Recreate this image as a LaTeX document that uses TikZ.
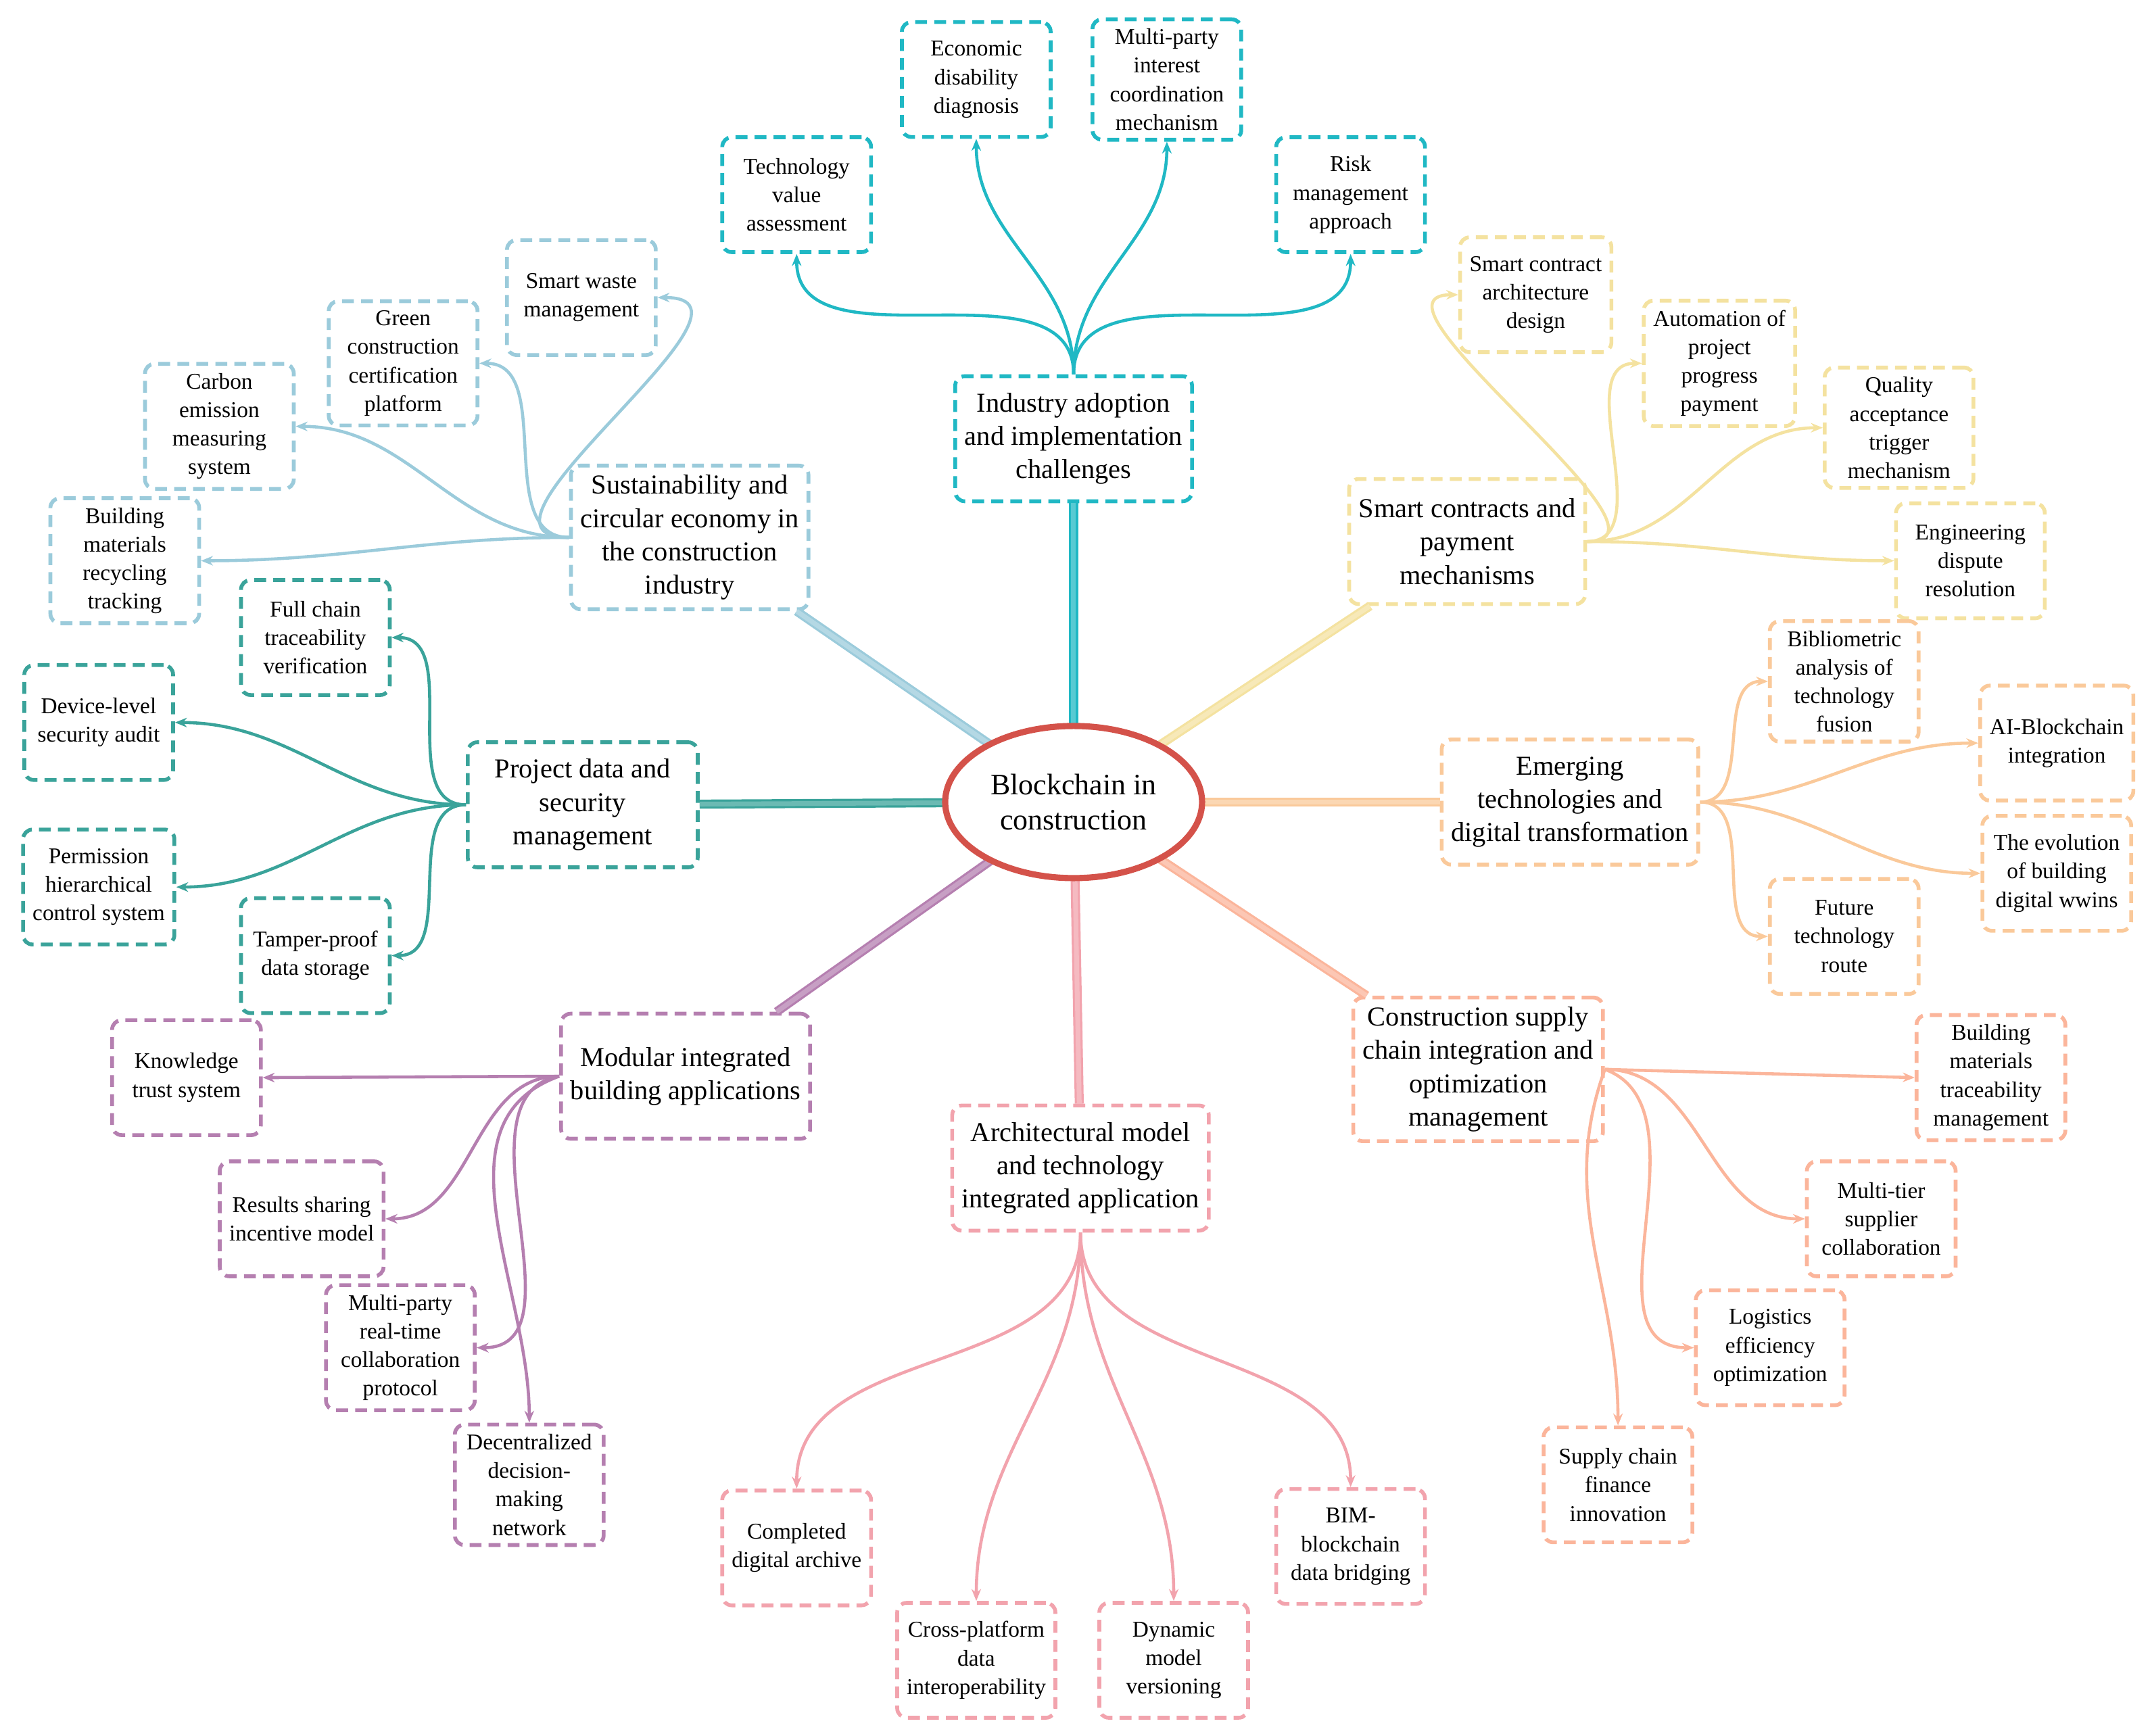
\documentclass[tikz,border=0pt]{standalone}
\usepackage{fontspec}
\setmainfont{Liberation Serif}
\usetikzlibrary{shapes.geometric,arrows.meta}
\definecolor{cA}{HTML}{20B8C4}
\definecolor{cB}{HTML}{9BCBDB}
\definecolor{cC}{HTML}{F4E2A0}
\definecolor{cD}{HTML}{3AA39A}
\definecolor{cE}{HTML}{FAC99A}
\definecolor{cF}{HTML}{B57FB0}
\definecolor{cG}{HTML}{F2A3AD}
\definecolor{cH}{HTML}{FBB59B}
\definecolor{cR}{HTML}{D4524A}
\begin{document}
\begin{tikzpicture}[x=0.02028cm,y=-0.02028cm,
 box/.style={draw=#1,dashed,dash pattern=on 5pt off 3pt,line width=1.6pt,rounded corners=4pt,align=center,inner sep=4pt,fill=white},
 leaf/.style={box=#1,minimum width=2.2cm,minimum height=1.7cm,font=\fontsize{9.5}{12}\selectfont},
 main/.style={box=#1,minimum width=3.4cm,minimum height=1.85cm,font=\fontsize{11.5}{14}\selectfont},
 lk/.style={draw=#1,line width=1.3pt,-{Stealth[length=5pt,width=4pt]}},
 tr/.style={draw=#1,line width=0.9pt,double=#1!75!white,double distance=2pt}]
\useasboundingbox (0,0) rectangle (1568,1266);
% main topics
\node[main=cA] (ia) at (783,320) {Industry adoption\\and implementation\\challenges};
\node[main=cB] (su) at (503,392) {Sustainability and\\circular economy in\\the construction\\industry};
\node[main=cC] (sc) at (1070,395) {Smart contracts and\\payment\\mechanisms};
\node[main=cD] (pd) at (425,587) {Project data and\\security\\management};
\node[main=cE] (em) at (1145,585) {Emerging\\technologies and\\digital transformation};
\node[main=cF] (mo) at (500,785) {Modular integrated\\building applications};
\node[main=cG] (ar) at (788,852) {Architectural model\\and technology\\integrated application};
\node[main=cH] (sp) at (1078,780) {Construction supply\\chain integration and\\optimization\\management};
\coordinate (c0) at (783,585);
\foreach \n/\cc in {ia/cA,su/cB,sc/cC,pd/cD,em/cE,mo/cF,ar/cG,sp/cH}
 \path[tr=\cc] (c0) -- (\n);
\node[ellipse,draw=cR,line width=2.6pt,minimum width=3.45cm,minimum height=2.25cm,fill=white,font=\fontsize{12.5}{15}\selectfont,align=center] (c) at (783,585) {Blockchain in\\construction};
% leaves
\node[leaf=cA] (a1) at (581,142) {Technology\\value\\assessment};
\node[leaf=cA] (a2) at (712,58) {Economic\\disability\\diagnosis};
\node[leaf=cA] (a3) at (851,58) {Multi-party\\interest\\coordination\\mechanism};
\node[leaf=cA] (a4) at (985,142) {Risk\\management\\approach};
\node[leaf=cB] (b1) at (424,217) {Smart waste\\management};
\node[leaf=cB] (b2) at (294,265) {Green\\construction\\certification\\platform};
\node[leaf=cB] (b3) at (160,311) {Carbon\\emission\\measuring\\system};
\node[leaf=cB] (b4) at (91,409) {Building\\materials\\recycling\\tracking};
\node[leaf=cC] (s1) at (1120,215) {Smart contract\\architecture\\design};
\node[leaf=cC] (s2) at (1254,265) {Automation of\\project\\progress\\payment};
\node[leaf=cC] (s3) at (1385,312) {Quality\\acceptance\\trigger\\mechanism};
\node[leaf=cC] (s4) at (1437,409) {Engineering\\dispute\\resolution};
\node[leaf=cD] (d1) at (230,465) {Full chain\\traceability\\verification};
\node[leaf=cD] (d2) at (72,527) {Device-level\\security audit};
\node[leaf=cD] (d3) at (72,647) {Permission\\hierarchical\\control system};
\node[leaf=cD] (d4) at (230,697) {Tamper-proof\\data storage};
\node[leaf=cE] (e1) at (1345,497) {Bibliometric\\analysis of\\technology\\fusion};
\node[leaf=cE] (e2) at (1500,542) {AI-Blockchain\\integration};
\node[leaf=cE] (e3) at (1500,637) {The evolution\\of building\\digital wwins};
\node[leaf=cE] (e4) at (1345,683) {Future\\technology\\route};
\node[leaf=cF] (f1) at (136,786) {Knowledge\\trust system};
\node[leaf=cF] (f2) at (220,889) {Results sharing\\incentive model};
\node[leaf=cF] (f3) at (292,983) {Multi-party\\real-time\\collaboration\\protocol};
\node[leaf=cF] (f4) at (386,1083) {Decentralized\\decision-\\making\\network};
\node[leaf=cG] (g1) at (581,1129) {Completed\\digital archive};
\node[leaf=cG] (g2) at (712,1211) {Cross-platform\\data\\interoperability};
\node[leaf=cG] (g3) at (856,1211) {Dynamic\\model\\versioning};
\node[leaf=cG] (g4) at (985,1128) {BIM-\\blockchain\\data bridging};
\node[leaf=cH] (h1) at (1452,786) {Building\\materials\\traceability\\management};
\node[leaf=cH] (h2) at (1372,889) {Multi-tier\\supplier\\collaboration};
\node[leaf=cH] (h3) at (1291,983) {Logistics\\efficiency\\optimization};
\node[leaf=cH] (h4) at (1180,1083) {Supply chain\\finance\\innovation};
% links
\foreach \t in {a1,a2,a3,a4} \draw[lk=cA] (ia.north) to[out=90,in=-90] (\t.south);
\draw[lk=cB] (su.west) to[out=180,in=0,looseness=1.3] (b1.east);
\draw[lk=cB] (su.west) to[out=180,in=0] (b2.east);
\draw[lk=cB] (su.west) to[out=180,in=0] (b3.east);
\draw[lk=cB] (su.west) to[out=180,in=0] (b4.east);
\foreach \t in {s1,s2,s3,s4} \draw[lk=cC] (sc.east) to[out=0,in=180] (\t.west);
\foreach \t in {d1,d2,d3,d4} \draw[lk=cD] (pd.west) to[out=180,in=0] (\t.east);
\foreach \t in {e1,e2,e3,e4} \draw[lk=cE] (em.east) to[out=0,in=180] (\t.west);
\draw[lk=cF] (mo.west) -- (f1.east);
\draw[lk=cF] (mo.west) to[out=180,in=0] (f2.east);
\draw[lk=cF] (mo.west) to[out=190,in=0] (f3.east);
\draw[lk=cF] (mo.west) to[out=200,in=90] (f4.north);
\foreach \t in {g1,g2,g3,g4} \draw[lk=cG] (ar.south) to[out=-90,in=90] (\t.north);
\draw[lk=cH] (sp.east) -- (h1.west);
\draw[lk=cH] (sp.east) to[out=0,in=180] (h2.west);
\draw[lk=cH] (sp.east) to[out=-20,in=180] (h3.west);
\draw[lk=cH] (sp.east) to[out=-110,in=90] (h4.north);
\end{tikzpicture}
\end{document}
